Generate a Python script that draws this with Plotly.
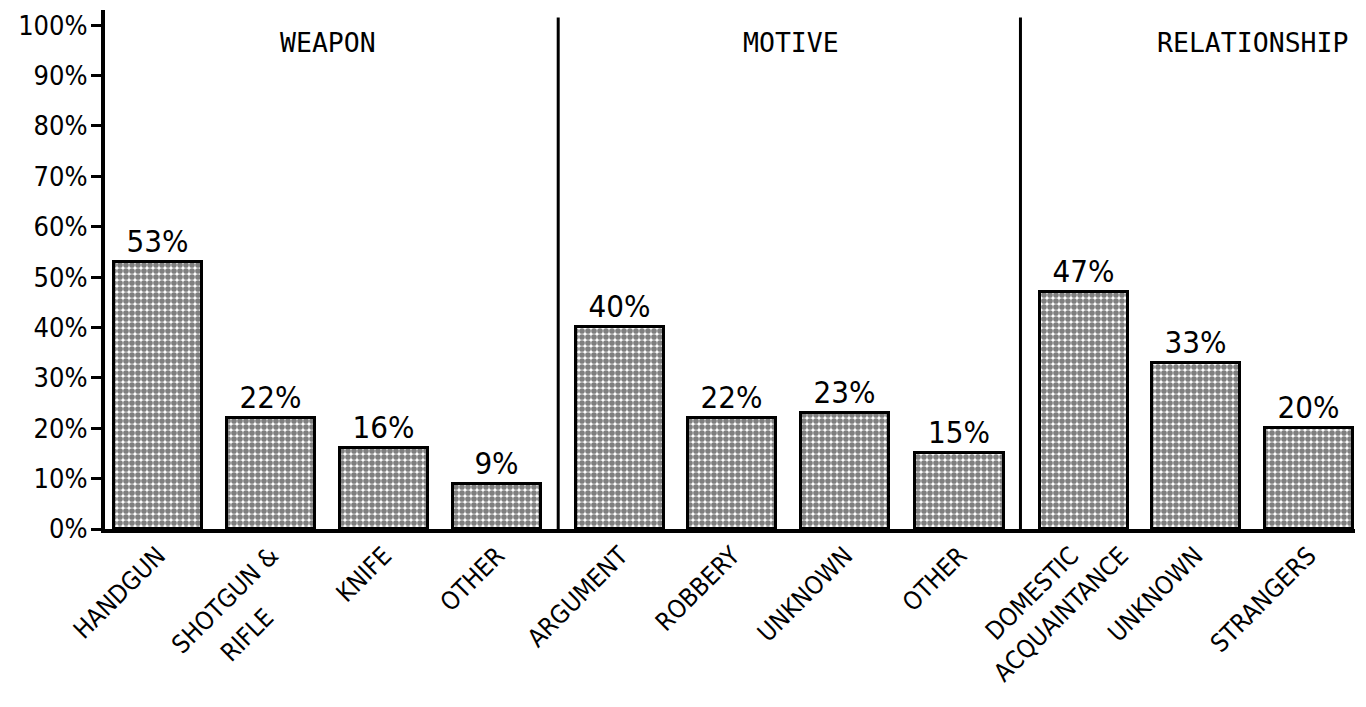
import plotly.graph_objects as go

# ---- data ----
categories = ["HANDGUN", "SHOTGUN & RIFLE", "KNIFE", "OTHER",
              "ARGUMENT", "ROBBERY", "UNKNOWN", "OTHER",
              "DOMESTIC ACQUAINTANCE", "UNKNOWN", "STRANGERS"]
values = [53, 22, 16, 9, 40, 22, 23, 15, 47, 33, 20]
groups = ["WEAPON", "MOTIVE", "RELATIONSHIP"]
y_ticks = [0, 10, 20, 30, 40, 50, 60, 70, 80, 90, 100]
y_tick_labels = ["0%", "10%", "20%", "30%", "40%", "50%", "60%", "70%", "80%", "90%", "100%"]
# category tick labels as printed (two-line names split over their lines)
x_tick_labels = ["HANDGUN", "SHOTGUN &amp;", "KNIFE", "OTHER",
                 "ARGUMENT", "ROBBERY", "UNKNOWN", "OTHER",
                 "DOMESTIC", "ACQUAINTANCE", "UNKNOWN", "STRANGERS"]
second_line_label = "RIFLE"

# ---- layout positions (slot positions along x) ----
x_pos = [0, 1, 2, 3, 4.09, 5.08, 6.08, 7.09, 8.19, 9.18, 10.18]
x_tick_pos = [0, 1, 2, 3, 4.09, 5.08, 6.08, 7.09, 8.08, 8.52, 9.18, 10.18]
second_line_pos = (1.093, -0.137)
separators = [3.54, 7.63]
group_centers = [1.5, 5.6, 9.68]

LABEL_FONT = "DejaVu Sans Condensed, Liberation Sans Narrow, sans-serif"
TITLE_FONT = "DejaVu Sans Mono, Liberation Mono, monospace"

fig = go.Figure()
fig.add_trace(go.Bar(
    x=x_pos, y=values, width=0.78, customdata=categories,
    marker=dict(color="white",
                line=dict(color="black", width=3),
                pattern=dict(shape=".", fgcolor="black", bgcolor="white",
                             size=6, solidity=0.7)),
    text=[f"{v}%" for v in values], textposition="outside",
    textfont=dict(family=LABEL_FONT, size=31, color="black"),
    cliponaxis=False, showlegend=False, hoverinfo="skip",
))

for s in separators:
    fig.add_shape(type="line", xref="x", yref="y", x0=s, x1=s, y0=0, y1=101.5,
                  line=dict(color="black", width=3))

for g, c in zip(groups, group_centers):
    fig.add_annotation(x=c, y=96.5, xref="x", yref="y", text=g, showarrow=False,
                       font=dict(family=TITLE_FONT, size=26.5, color="black"))

fig.add_annotation(x=second_line_pos[0], y=second_line_pos[1], xref="x", yref="paper",
                   text=second_line_label, showarrow=False, textangle=-45,
                   xanchor="right", yanchor="top",
                   font=dict(family=LABEL_FONT, size=25, color="black"))

fig.update_layout(
    width=1358, height=699, plot_bgcolor="white", paper_bgcolor="white",
    margin=dict(l=97, r=11, t=2, b=178),
    bargap=0,
)
fig.update_xaxes(range=[-0.47, 10.59], tickvals=x_tick_pos, ticktext=x_tick_labels,
                 tickangle=-45, showgrid=False, zeroline=False,
                 showline=True, linecolor="black", linewidth=4,
                 tickfont=dict(family=LABEL_FONT, size=25, color="black"),
                 ticks="", automargin=False, ticklabelstandoff=-2)
fig.update_yaxes(range=[0, 103], tickvals=y_ticks, ticktext=y_tick_labels,
                 showgrid=False, zeroline=False, showline=True,
                 linecolor="black", linewidth=4, ticks="outside",
                 ticklen=10, tickwidth=3, tickcolor="black", automargin=False,
                 ticklabelstandoff=-2,
                 tickfont=dict(family=LABEL_FONT, size=27, color="black"))

fig.write_html("out.html")
